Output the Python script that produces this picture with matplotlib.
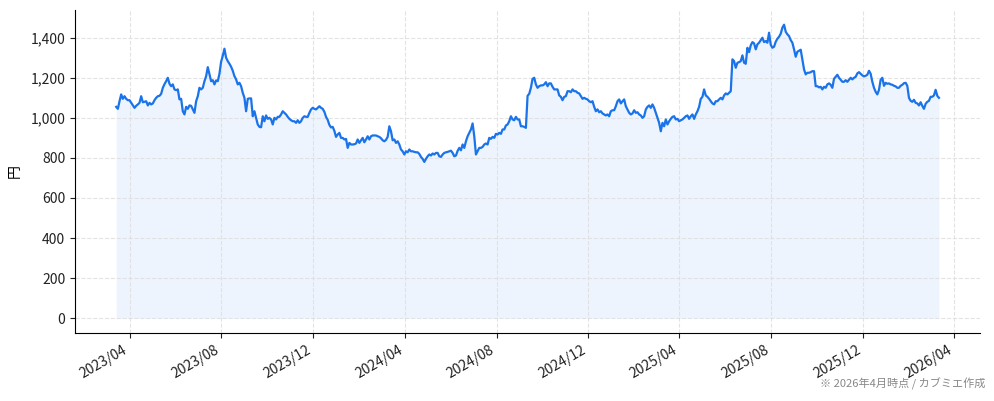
import numpy as np
import pandas as pd
import matplotlib
matplotlib.use("Agg")
import matplotlib.pyplot as plt
import matplotlib.dates as mdates
from matplotlib.ticker import StrMethodFormatter

plt.rcParams['font.family'] = ['Noto Sans CJK JP', 'DejaVu Sans']

# 株価（円）: 2023/03/14 〜 2026/03/12 をほぼ等間隔で読み取り
start_date = "2023-03-14"
end_date = "2026-03-12"

prices_2023 = [
    1055, 1045, 1083, 1117, 1095, 1108, 1095, 1088, 1088, 1075, 1062, 1050, 1060, 1067, 1075, 1108,
    1078, 1080, 1083, 1062, 1075, 1067, 1072, 1088, 1100, 1108, 1110, 1120, 1150, 1168, 1183, 1200,
    1170, 1158, 1167, 1142, 1138, 1142, 1092, 1095, 1033, 1017, 1055, 1045, 1062, 1060, 1042, 1025,
    1083, 1108, 1150, 1142, 1150, 1183, 1208, 1253, 1217, 1183, 1188, 1167, 1187, 1183, 1220, 1280,
    1310, 1345, 1300, 1283, 1270, 1255, 1235, 1208, 1192, 1167, 1175, 1158, 1125, 1100, 1033, 1095,
    1097, 1097, 1008, 1033, 1000, 967, 955, 953, 1008, 983, 1012, 995, 1000, 992, 967, 1000,
    992, 1005, 1005, 1017, 1033, 1025, 1017, 1005, 995, 988, 983, 983, 975, 988, 975, 983,
    1000, 1008, 1005, 1005, 1025, 1042, 1050, 1045, 1042, 1050,
]
prices_2024a = [
    1058, 1050, 1045, 1030, 1005, 990, 965, 952, 955, 935, 905, 917, 925, 900, 900, 892,
    895, 850, 875, 867, 867, 868, 872, 892, 875, 888, 900, 878, 892, 908, 892, 908,
    912, 912, 912, 908, 905, 898, 888, 883, 890, 905, 958, 933, 888, 892, 875, 883,
    867, 842, 833, 817, 833, 828, 842, 833, 833, 830, 828, 828, 820, 805, 795, 780,
    795, 808, 817, 812, 822, 817, 825, 825, 808, 805, 817, 825, 828, 830, 833, 836,
    825, 808, 812, 835, 850, 838, 867, 850, 883, 908, 925, 942, 972, 908, 817, 833,
    850, 850, 855, 867, 872, 867, 900, 895, 905, 900, 920, 917, 925, 920, 942, 942,
    962, 967, 983, 1008, 992, 988, 1005, 992,
]
prices_2024b = [
    992, 958, 958, 955, 950, 1110, 1120, 1150, 1195, 1200, 1167, 1150, 1158, 1162, 1162, 1167,
    1178, 1158, 1172, 1172, 1155, 1142, 1142, 1142, 1112, 1105, 1088, 1105, 1108, 1133, 1133, 1128,
    1142, 1133, 1133, 1125, 1122, 1108, 1095, 1100, 1095, 1092, 1083, 1078, 1083, 1055, 1033, 1042,
    1028, 1033, 1022, 1017, 1012, 1017, 1008, 1033, 1038, 1038, 1058, 1083, 1092, 1072, 1083, 1092,
    1058, 1042, 1025, 1017, 1022, 1038, 1025, 1028, 1017, 1012, 1000, 1008, 1042, 1055, 1062, 1050,
    1067, 1050, 1025, 1000, 975, 933, 975, 958, 992, 967, 983, 995, 1005, 1008, 992, 995,
    983, 988, 992, 1000, 1008, 1012, 995, 1008, 1017, 995, 1017, 1033, 1055, 1095, 1105, 1142,
    1112, 1105, 1095, 1083, 1072, 1067, 1083, 1083,
]
prices_2025 = [
    1092, 1100, 1092, 1112, 1122, 1117, 1125, 1133, 1292, 1283, 1250, 1275, 1278, 1283, 1312, 1275,
    1270, 1350, 1328, 1362, 1378, 1372, 1342, 1367, 1375, 1388, 1400, 1378, 1383, 1375, 1425, 1365,
    1350, 1355, 1380, 1395, 1405, 1420, 1450, 1465, 1430, 1417, 1408, 1388, 1375, 1342, 1305, 1330,
    1335, 1340, 1292, 1242, 1217, 1225, 1225, 1228, 1233, 1233, 1158, 1158, 1152, 1155, 1142, 1155,
    1150, 1167, 1172, 1165, 1150, 1195, 1205, 1215, 1200, 1190, 1180, 1180, 1188, 1180, 1190, 1200,
    1192, 1200, 1205, 1222, 1228, 1220, 1212, 1207, 1210, 1215, 1235, 1220, 1180, 1150, 1130, 1117,
    1140, 1190, 1200, 1160, 1175, 1170, 1172, 1167, 1165, 1160, 1157, 1150, 1150, 1160, 1165, 1173,
    1175, 1160, 1100, 1085, 1080, 1090, 1075, 1072, 1062, 1078, 1060, 1045, 1070, 1080, 1085, 1105,
    1105, 1112, 1140, 1110, 1100,
]

prices = prices_2023 + prices_2024a + prices_2024b + prices_2025
dates = pd.date_range(start_date, end_date, periods=len(prices))

line_color = "#1a73e8"

fig = plt.figure(figsize=(9.94, 4.01), dpi=100)
ax = fig.add_subplot()
fig.subplots_adjust(left=0.0755, right=0.986, bottom=0.17, top=0.975)

ax.plot(dates, prices, color=line_color, linewidth=1.6)
ax.fill_between(dates, prices, 0, color=line_color, alpha=0.08, linewidth=0)

ax.xaxis.set_major_locator(mdates.MonthLocator(bymonth=[4, 8, 12]))
ax.xaxis.set_major_formatter(mdates.DateFormatter("%Y/%m"))
ax.yaxis.set_major_formatter(StrMethodFormatter("{x:,.0f}"))
ax.set_yticks(range(0, 1401, 200))

for lbl in ax.get_xticklabels():
    lbl.set_rotation(30)
    lbl.set_ha("right")
ax.tick_params(labelsize=10, colors="#222222")

ax.set_ylabel("円", fontsize=10, labelpad=6)
ax.grid(True, linestyle="--", linewidth=0.8, color="#dddddd", alpha=0.8)
ax.spines["top"].set_visible(False)
ax.spines["right"].set_visible(False)

fig.text(0.991, 0.027, "※ 2026年4月時点 / カブミエ作成", ha="right", va="bottom",
         fontsize=8, color="#888888")

fig.savefig("out.png", dpi=100)
